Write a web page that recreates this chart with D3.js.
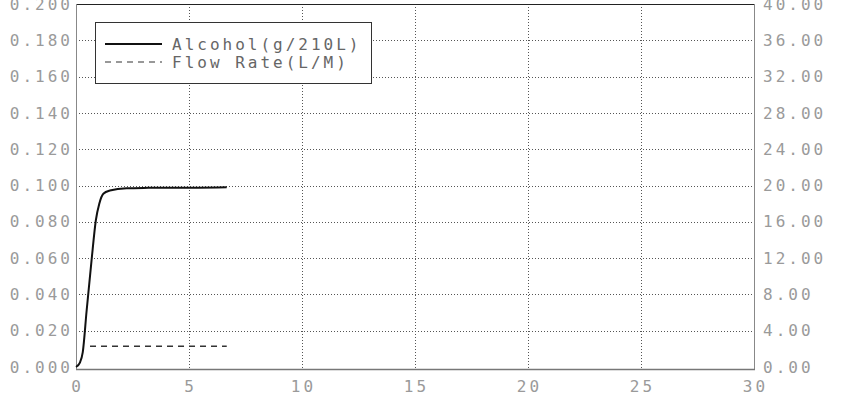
<!DOCTYPE html>
<html>
<head>
<meta charset="utf-8">
<script src="https://cdn.jsdelivr.net/npm/d3@7"></script>
<style>
  body { margin: 0; background: #fff; }
  svg { display: block; }
</style>
</head>
<body>
<svg id="chart" width="842" height="403"></svg>
<script>
// time (min) vs alcohol concentration (g/210L)
const alcoholTime = [0, 0.18, 0.30, 0.47, 0.69, 0.88, 1.03, 1.21, 1.50, 2.24, 3.2, 4.16, 5.4, 6.67];
const alcoholValues = [0, 0.0026, 0.0082, 0.031, 0.059, 0.081, 0.090, 0.0955, 0.0972, 0.0985, 0.0987, 0.0988, 0.0988, 0.0990];

// flow rate (L/M), right axis
const flowTime = [0.62, 6.67];
const flowValues = [2.3, 2.3];

const xTicks = [0, 5, 10, 15, 20, 25, 30];
const leftTicks = [0, 0.02, 0.04, 0.06, 0.08, 0.10, 0.12, 0.14, 0.16, 0.18, 0.20];
const rightTicks = [0, 4, 8, 12, 16, 20, 24, 28, 32, 36, 40];
const legendLabels = ["Alcohol(g/210L)", "Flow Rate(L/M)"];

const svg = d3.select("svg#chart");
const margin = { top: 4, right: 88, bottom: 36, left: 76 };
const width = 842, height = 403;
const fontFamily = "'DejaVu Sans Mono', 'Liberation Mono', monospace";
const textColor = "#9a9a9a";

const x = d3.scaleLinear().domain([0, 30]).range([margin.left, width - margin.right]);
const yLeft = d3.scaleLinear().domain([0, 0.2]).range([367, margin.top]);
const yRight = d3.scaleLinear().domain([0, 40]).range([367, margin.top]);

// grid lines (dotted)
const grid = svg.append("g").attr("stroke", "#555").attr("stroke-width", 1).attr("stroke-dasharray", "1,2");
grid.selectAll("line.h").data(leftTicks.slice(1, -1)).join("line")
    .attr("x1", margin.left).attr("x2", width - margin.right)
    .attr("y1", d => Math.round(yLeft(d)) + 0.5).attr("y2", d => Math.round(yLeft(d)) + 0.5);
grid.selectAll("line.v").data(xTicks.slice(1, -1)).join("line")
    .attr("y1", margin.top).attr("y2", 369)
    .attr("x1", d => Math.round(x(d)) + 0.5).attr("x2", d => Math.round(x(d)) + 0.5);

// frame
svg.append("line").attr("x1", margin.left).attr("x2", x(30)).attr("y1", 4.5).attr("y2", 4.5)
    .attr("stroke", "#222");
svg.append("line").attr("x1", margin.left + 0.5).attr("x2", margin.left + 0.5).attr("y1", 4).attr("y2", 370)
    .attr("stroke", "#888");
svg.append("line").attr("x1", Math.round(x(30)) + 0.5).attr("x2", Math.round(x(30)) + 0.5).attr("y1", 4).attr("y2", 370)
    .attr("stroke", "#888");
svg.append("line").attr("x1", margin.left).attr("x2", x(30) + 1).attr("y1", 369.5).attr("y2", 369.5)
    .attr("stroke", "#777").attr("stroke-width", 1.5);

// tick labels
const labelStyle = sel => sel.attr("font-family", fontFamily).attr("font-size", 16)
    .attr("letter-spacing", 3).attr("fill", textColor);

svg.append("g").selectAll("text").data(leftTicks).join("text")
    .call(labelStyle)
    .attr("x", 73).attr("y", d => yLeft(d)).attr("dy", "0.35em")
    .attr("text-anchor", "end")
    .text(d => d3.format(".3f")(d));

svg.append("g").selectAll("text").data(rightTicks).join("text")
    .call(labelStyle)
    .attr("x", 763).attr("y", d => yRight(d)).attr("dy", "0.35em")
    .text(d => d3.format(".2f")(d));

svg.append("g").selectAll("text").data(xTicks).join("text")
    .call(labelStyle)
    .attr("x", d => x(d) + 1.5).attr("y", 386).attr("dy", "0.35em")
    .attr("text-anchor", "middle")
    .text(d => d);

// series
const alcoholLine = d3.line().x((d, i) => x(alcoholTime[i])).y(d => yLeft(d)).curve(d3.curveMonotoneX);
svg.append("path").attr("d", alcoholLine(alcoholValues))
    .attr("fill", "none").attr("stroke", "#111").attr("stroke-width", 2);

const flowLine = d3.line().x((d, i) => x(flowTime[i])).y(d => yRight(d));
svg.append("path").attr("d", flowLine(flowValues))
    .attr("fill", "none").attr("stroke", "#333").attr("stroke-width", 1.5)
    .attr("stroke-dasharray", "6,5");

// legend
const legend = svg.append("g").attr("transform", "translate(95,22)");
legend.append("rect").attr("x", 0.5).attr("y", 0.5).attr("width", 276).attr("height", 61)
    .attr("fill", "#fff").attr("stroke", "#333");
legend.selectAll("line").data(legendLabels).join("line")
    .attr("x1", 10).attr("x2", 67)
    .attr("y1", (d, i) => 22 + i * 18).attr("y2", (d, i) => 22 + i * 18)
    .attr("stroke", (d, i) => i === 0 ? "#111" : "#333")
    .attr("stroke-width", (d, i) => i === 0 ? 2 : 1.2)
    .attr("stroke-dasharray", (d, i) => i === 0 ? null : "6,5");
legend.selectAll("text").data(legendLabels).join("text")
    .call(labelStyle)
    .attr("fill", "#666")
    .attr("x", 77).attr("y", (d, i) => 22 + i * 18).attr("dy", "0.35em")
    .text(d => d);
</script>
</body>
</html>
